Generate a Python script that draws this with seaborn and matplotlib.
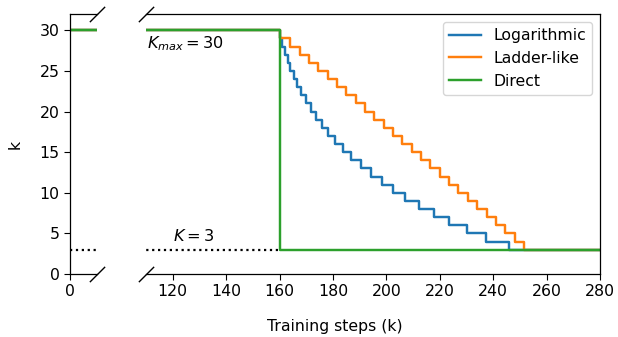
import numpy as np
import pandas as pd
import seaborn as sns
import matplotlib
matplotlib.use("Agg")
import matplotlib.pyplot as plt

plt.rcParams['font.family'] = ['DejaVu Sans']
plt.rcParams['font.size'] = 11.3
plt.rcParams['xtick.major.size'] = 4
plt.rcParams['ytick.major.size'] = 4
plt.rcParams['axes.linewidth'] = 0.9

# schedule data (training steps in k, value of k)
K_MAX = 30
K_MIN = 3
SWITCH = 160
END = 280

log_steps = [0, 160, 161.0, 162.0, 163.0, 164.1, 165.3, 166.6, 168.1, 169.8, 171.6,
             173.6, 175.8, 178.2, 180.8, 183.7, 186.9, 190.6, 194.3, 198.2, 202.4,
             207.1, 212.2, 217.7, 223.3, 230.2, 237.2, 245.8, 280]
log_k = [30, 29, 28, 27, 26, 25, 24, 23, 22, 21, 20, 19, 18, 17, 16, 15, 14,
         13, 12, 11, 10, 9, 8, 7, 6, 5, 4, 3, 3]

ladder_steps = [0, 160, 164.0, 167.5, 171.0, 174.5, 178.0, 181.5, 185.0, 188.5,
                192.0, 195.5, 199.0, 202.5, 206.0, 209.5, 213.0, 216.5, 220.0,
                223.5, 227.0, 230.5, 234.0, 237.5, 241.0, 244.5, 248.0, 251.5, 280]
ladder_k = [30, 29, 28, 27, 26, 25, 24, 23, 22, 21, 20, 19, 18, 17, 16, 15, 14,
            13, 12, 11, 10, 9, 8, 7, 6, 5, 4, 3, 3]

direct_steps = [0, 160, 280]
direct_k = [30, 3, 3]

df = pd.concat([
    pd.DataFrame({'step': log_steps, 'k': log_k, 'schedule': 'Logarithmic'}),
    pd.DataFrame({'step': ladder_steps, 'k': ladder_k, 'schedule': 'Ladder-like'}),
    pd.DataFrame({'step': direct_steps, 'k': direct_k, 'schedule': 'Direct'}),
], ignore_index=True)
colors = ['#1f77b4', '#ff7f0e', '#2ca02c']

fig = plt.figure(figsize=(6.18, 3.37), dpi=100)
ax1 = fig.add_axes([70 / 618, 1 - 274 / 337, 27 / 618, 260 / 337])
ax2 = fig.add_axes([146 / 618, 1 - 274 / 337, 454 / 618, 260 / 337])

for ax, leg in [(ax1, False), (ax2, True)]:
    ax.hlines(K_MIN, 0, SWITCH, colors='k', linestyles=':', linewidth=1.6)
    sns.lineplot(data=df, x='step', y='k', hue='schedule', palette=colors,
                 drawstyle='steps-post', linewidth=1.75, estimator=None,
                 sort=False, legend=leg, ax=ax)
    ax.set_ylim(0, 32)
    ax.set_xlabel('')
    ax.set_ylabel('')

ax1.set_xlim(0, 10)
ax1.set_xticks([0])
ax1.set_yticks([0, 5, 10, 15, 20, 25, 30])
ax1.spines['right'].set_visible(False)
ax1.set_ylabel('k', labelpad=12)

ax2.set_xlim(110, 280)
ax2.set_xticks([120, 140, 160, 180, 200, 220, 240, 260, 280])
ax2.spines['left'].set_visible(False)
ax2.tick_params(left=False, labelleft=False)

ax2.legend(loc='upper right', fontsize=11.3)

ax2.text(110.2, 28.4, r'$K_{max} = 30$', va='center', ha='left', fontsize=11.6)
ax2.text(120, 4.7, r'$K = 3$', va='center', ha='left', fontsize=11.6)

# break marks
kw = dict(marker=[(-1, -1), (1, 1)], markersize=11, linestyle='none',
          color='k', mec='k', mew=1, clip_on=False)
ax1.plot([1, 1], [0, 1], transform=ax1.transAxes, **kw)
ax2.plot([0, 0], [0, 1], transform=ax2.transAxes, **kw)

fig.text(335 / 618, 10 / 337, 'Training steps (k)', ha='center', va='center')

fig.savefig('out.png', dpi=100)
